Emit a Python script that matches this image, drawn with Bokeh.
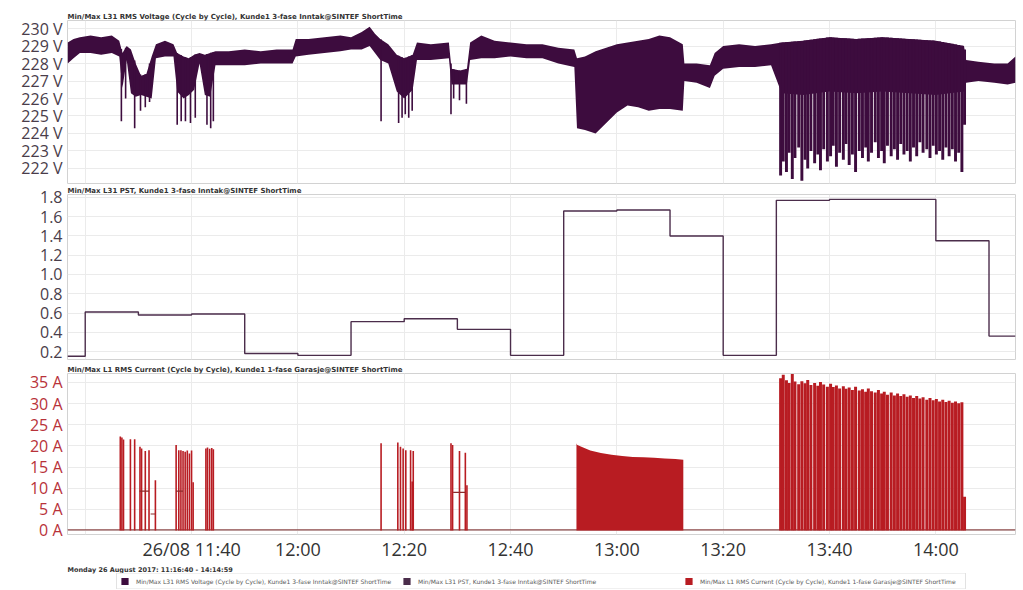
from bokeh.plotting import figure
from bokeh.layouts import column
from bokeh.models import FixedTicker, Legend, LegendItem, Range1d
from bokeh.embed import file_html
from bokeh.resources import INLINE
import numpy as np

# ---------------- data (time = minutes after 11:00 on 26/08/2017) ----------------
T_START = 16.667   # 11:16:40
T_END = 194.983    # 14:14:59

time_ticks = [20, 40, 60, 80, 100, 120, 140, 160, 180]
time_labels = ["", "26/08 11:40", "12:00", "12:20", "12:40", "13:00", "13:20", "13:40", "14:00"]

volt_ticks = [222, 223, 224, 225, 226, 227, 228, 229, 230]
volt_labels = ["222 V", "223 V", "224 V", "225 V", "226 V", "227 V", "228 V", "229 V", "230 V"]
pst_ticks = [0.2, 0.4, 0.6, 0.8, 1.0, 1.2, 1.4, 1.6, 1.8]
pst_labels = ["0.2", "0.4", "0.6", "0.8", "1.0", "1.2", "1.4", "1.6", "1.8"]
amp_ticks = [0, 5, 10, 15, 20, 25, 30, 35]
amp_labels = ["0 A", "5 A", "10 A", "15 A", "20 A", "25 A", "30 A", "35 A"]

# RMS voltage: min/max envelope of the steady band
volt_t = [16.7, 17.8, 19.0, 21.0, 23.0, 25.0, 26.4, 27.0, 27.8, 28.6,
          29.5, 30.5, 31.5, 32.5, 33.3, 35.0, 36.6, 37.3, 38.5, 39.5,
          40.5, 41.5, 42.5, 43.5, 44.5, 47.0, 50.0, 53.0, 56.0, 59.0,
          59.6, 62.0, 65.0, 68.0, 70.0, 72.0, 73.5, 74.5, 75.5, 77.0,
          78.6, 80.0, 81.6, 82.4, 85.0, 88.4, 88.9, 90.5, 91.8, 92.4,
          94.5, 97.0, 100.0, 103.0, 106.0, 109.0, 112.0, 112.5, 114.0, 116.0,
          118.0, 120.0, 122.0, 124.0, 126.0, 128.0, 130.0, 132.4, 132.7, 135.0,
          137.5, 138.4, 140.0, 143.0, 146.0, 149.0, 151.0, 155.0, 160.0, 165.0,
          170.0, 175.0, 180.0, 185.3, 185.7, 188.0, 191.0, 193.5, 194.98]
volt_hi = [229.2, 229.4, 229.5, 229.6, 229.5, 229.6, 229.3, 228.6, 229.0, 228.8,
           228.0, 227.3, 227.4, 228.4, 229.1, 229.3, 229.1, 228.6, 228.4, 228.3,
           228.5, 228.6, 228.5, 228.6, 228.7, 228.7, 228.8, 228.7, 228.8, 228.8,
           229.4, 229.4, 229.5, 229.6, 229.5, 229.8, 230.1, 229.7, 229.4, 229.1,
           228.5, 228.3, 228.5, 229.2, 229.1, 229.2, 227.7, 227.6, 227.7, 229.2,
           229.6, 229.3, 229.2, 229.1, 229.1, 228.9, 228.8, 228.3, 228.4, 228.7,
           228.9, 229.1, 229.2, 229.3, 229.4, 229.6, 229.5, 229.1, 228.0, 228.0,
           227.9, 228.6, 229.0, 229.1, 229.0, 229.1, 229.2, 229.3, 229.5, 229.4,
           229.5, 229.4, 229.3, 229.0, 228.2, 228.1, 228.0, 228.0, 228.4]
volt_lo = [228.0, 228.3, 228.6, 228.6, 228.5, 228.6, 228.4, 226.6, 228.2, 226.3,
           226.1, 226.2, 226.1, 226.0, 228.3, 228.4, 228.4, 226.4, 226.0, 226.2,
           226.5, 228.0, 226.2, 226.1, 227.9, 227.9, 227.9, 228.0, 228.0, 228.0,
           228.4, 228.5, 228.6, 228.7, 228.8, 228.8, 229.0, 228.6, 228.2, 228.0,
           226.4, 226.0, 226.5, 228.2, 228.2, 228.3, 226.8, 226.8, 226.8, 228.2,
           228.3, 228.3, 228.4, 228.3, 228.3, 228.0, 227.8, 224.3, 224.2, 224.0,
           224.6, 225.2, 225.6, 225.5, 225.3, 225.4, 225.4, 225.3, 227.0, 226.9,
           226.6, 227.3, 227.7, 227.8, 227.8, 227.9, 226.3, 226.2, 226.4, 226.3,
           226.4, 226.3, 226.2, 226.4, 226.9, 227.0, 226.9, 226.8, 226.9]

# voltage dips (deepest cycle) outside the dense bursts
dip_t = [26.8, 27.6, 29.3, 30.4, 31.3, 32.1, 37.3, 38.05, 38.85, 39.8, 40.7, 42.9,
         43.6, 44.1, 75.65, 78.95, 79.6, 80.2, 80.85, 81.5, 88.8, 89.3, 90.4, 91.7]
dip_v = [224.7, 226.0, 224.3, 225.3, 225.5, 225.8, 224.5, 224.7, 224.7, 224.6, 224.9, 224.5,
         224.3, 224.7, 224.7, 224.6, 224.9, 225.1, 224.9, 225.3, 225.1, 226.0, 225.9, 225.7]

# PST (10-minute steps)
pst_edges = [16.667, 20, 30, 40, 50, 60, 70, 80, 90, 100, 110, 120, 130, 140, 150, 160, 170, 180, 190]
pst_vals = [0.15, 0.61, 0.58, 0.59, 0.18, 0.16, 0.51, 0.54, 0.43, 0.16,
            1.66, 1.67, 1.40, 0.16, 1.77, 1.78, 1.78, 1.35, 0.36]

# RMS current: isolated spikes
spike_t = [26.6, 26.9, 27.2, 28.5, 29.3, 30.3, 30.6, 31.3, 32.0, 33.2, 37.1, 37.6, 38.0,
           38.4, 38.8, 39.2, 39.6, 40.0, 40.3, 42.7, 43.0, 43.4, 43.8, 44.1, 75.65, 78.8,
           79.3, 79.8, 80.3, 81.2, 81.5, 81.7, 88.8, 89.1, 90.4, 91.5, 91.8]
spike_a = [22.2, 22.0, 21.5, 21.6, 21.6, 19.8, 19.4, 18.8, 19.0, 11.9, 20.2, 19.0, 19.0,
           18.8, 18.6, 18.9, 18.2, 18.9, 11.4, 19.4, 19.6, 19.3, 19.5, 19.2, 20.6, 20.8,
           19.8, 19.4, 19.0, 19.0, 11.6, 18.8, 20.6, 20.2, 18.8, 18.4, 10.7]
# current plateaus drawn by the min/max trace
plat_t0 = [30.2, 32.3, 37.1, 89.2]
plat_t1 = [32.0, 33.2, 38.4, 91.5]
plat_a = [9.3, 3.9, 9.3, 9.0]
# idle current
idle_t = [T_START, T_END]
idle_a = [0.15, 0.15]
# continuous load block around 13:00
block_t = [112.4, 112.5, 113.0, 115.0, 117.0, 119.0, 121.0, 123.0, 125.0, 127.0, 129.0, 131.0, 132.5]
block_a = [20.6, 20.3, 20.0, 18.9, 18.3, 17.9, 17.6, 17.4, 17.3, 17.2, 17.0, 16.9, 16.7]

# switching bursts 13:30 - 14:05 (current peak and voltage minimum)
burst_t = [150.8, 151.3, 151.9, 152.4, 153.0, 153.5, 154.2, 154.8, 155.4, 155.9,
           156.5, 157.2, 157.8, 158.3, 158.9, 159.6, 160.2, 160.7, 161.3, 161.9,
           162.6, 163.1, 163.7, 164.3, 164.9, 165.6, 166.2, 166.8, 167.3, 167.9,
           168.6, 169.2, 169.8, 170.3, 170.9, 171.6, 172.2, 172.8, 173.4, 174.0,
           174.6, 175.2, 175.8, 176.4, 177.0, 177.6, 178.3, 178.9, 179.5, 180.1,
           180.7, 181.3, 181.9, 182.5, 183.1, 183.7, 184.3, 184.9, 185.4]
burst_a = [36.0, 36.8, 35.5, 34.9, 37.0, 35.2, 34.6, 35.3, 34.8, 35.6,
           34.4, 34.9, 34.2, 35.1, 34.5, 34.0, 34.7, 33.9, 34.3, 33.6,
           34.1, 33.5, 33.8, 33.2, 34.0, 33.1, 33.4, 32.8, 33.6, 32.9,
           32.6, 33.2, 32.4, 32.8, 32.1, 32.6, 31.9, 32.4, 31.8, 32.2,
           31.6, 31.9, 31.3, 31.8, 31.2, 31.5, 30.9, 31.3, 30.8, 31.1,
           30.5, 30.9, 30.4, 30.7, 30.2, 30.5, 30.1, 30.3, 8.0]
burst_v = [221.6, 222.4, 221.8, 222.9, 221.4, 222.6, 223.2, 221.3, 222.5, 222.0,
           223.0, 222.3, 222.8, 221.9, 223.1, 222.4, 222.7, 223.3, 222.1, 222.9,
           222.5, 223.4, 222.2, 222.8, 221.8, 223.0, 222.6, 223.2, 222.4, 222.9,
           223.5, 222.6, 223.0, 222.3, 223.3, 222.7, 223.1, 222.5, 223.4, 222.8,
           223.0, 222.4, 223.2, 222.7, 223.5, 222.9, 223.1, 222.6, 223.3, 222.8,
           223.0, 222.5, 223.2, 222.7, 223.1, 222.4, 222.9, 221.8, 224.5]

titles = ["Min/Max L31 RMS Voltage (Cycle by Cycle), Kunde1 3-fase Inntak@SINTEF ShortTime",
          "Min/Max L31 PST, Kunde1 3-fase Inntak@SINTEF ShortTime",
          "Min/Max L1 RMS Current (Cycle by Cycle), Kunde1 1-fase Garasje@SINTEF ShortTime"]
footer = "Monday 26 August 2017: 11:16:40 - 14:14:59"

# ---------------- styling ----------------
VOLT_C = "#3d0c3e"
PST_C = "#4b2d4b"
AMP_C = "#b81c22"
GRID_C = "#ebebeb"
FRAME_C = "#d2d2d2"
TICK_FONT = "Open Sans"
TITLE_FONT = "DejaVu Sans"
GREY_LBL = "#4a3d4a"
RED_LBL = "#b8323a"

x_range = Range1d(T_START, T_END)


def style_title(p, size="7px"):
    p.title.text_font = TITLE_FONT
    p.title.text_font_size = size
    p.title.text_font_style = "bold"
    p.title.text_color = "#333333"
    p.title.align = "left"
    p.title.standoff = 0
    p.title.offset = 0


def make_fig(y_lo, y_hi, frame_h, top_border, bottom_border, title, ticks, labels, lbl_color, show_x):
    p = figure(frame_width=948, frame_height=frame_h, x_range=x_range,
               y_range=Range1d(y_lo, y_hi), output_backend="svg", toolbar_location=None,
               min_border_left=67, min_border_right=8, min_border_top=top_border,
               min_border_bottom=bottom_border,
               x_axis_location="below" if show_x else None, title=title)
    style_title(p)
    p.outline_line_color = FRAME_C
    p.background_fill_color = "white"
    p.border_fill_color = "white"
    p.xgrid.ticker = FixedTicker(ticks=time_ticks)
    p.xgrid.grid_line_color = GRID_C
    p.ygrid.grid_line_color = GRID_C
    ax = p.yaxis[0]
    ax.ticker = FixedTicker(ticks=ticks)
    ax.major_label_overrides = dict(zip(ticks, labels))
    ax.major_label_text_font = TICK_FONT
    ax.major_label_text_font_size = "16px"
    ax.major_label_text_color = lbl_color
    ax.major_label_standoff = 5
    ax.major_tick_out = 0
    ax.major_tick_in = 0
    ax.minor_tick_out = 0
    ax.minor_tick_in = 0
    ax.axis_line_color = None
    ax.major_tick_line_color = None
    ax.minor_tick_line_color = None
    if show_x:
        xa = p.xaxis[0]
        xa.ticker = FixedTicker(ticks=time_ticks)
        xa.major_label_overrides = dict(zip(time_ticks, time_labels))
        xa.major_label_text_font = TICK_FONT
        xa.major_label_text_font_size = "18px"
        xa.major_label_text_color = "#333333"
        xa.major_label_standoff = 2
        xa.major_tick_out = 0
        xa.major_tick_in = 0
        xa.minor_tick_out = 0
        xa.minor_tick_in = 0
        xa.axis_line_color = None
        xa.major_tick_line_color = None
        xa.minor_tick_line_color = None
    return p


# ---- voltage ----
p1 = make_fig(221.14, 230.46, 163, 20, 1, titles[0], volt_ticks, volt_labels, GREY_LBL, False)
p1.varea(x=volt_t, y1=volt_lo, y2=volt_hi, fill_color=VOLT_C)
p1.segment(x0=dip_t, x1=dip_t, y0=np.interp(dip_t, volt_t, volt_hi).tolist(), y1=dip_v,
           line_color=VOLT_C, line_width=1.6)
p1.vbar(x=burst_t, width=0.55, bottom=burst_v, top=np.interp(burst_t, volt_t, volt_hi).tolist(),
        fill_color=VOLT_C, line_color=None)

# ---- PST ----
p2 = make_fig(0.117, 1.831, 165, 10, 4, titles[1], pst_ticks, pst_labels, GREY_LBL, False)
p2.step(x=pst_edges + [T_END], y=pst_vals + [pst_vals[-1]], mode="after",
        line_color=PST_C, line_width=1.4)

# ---- current ----
p3 = make_fig(-0.95, 37.12, 161, 10, 0, titles[2], amp_ticks, amp_labels, RED_LBL, True)
p3.line(x=idle_t, y=idle_a, line_color="#8c4a4a", line_width=1.2)
p3.varea(x=block_t, y1=[0] * len(block_t), y2=block_a, fill_color=AMP_C)
p3.segment(x0=spike_t, x1=spike_t, y0=[0] * len(spike_t), y1=spike_a, line_color=AMP_C, line_width=1.6)
p3.segment(x0=plat_t0, x1=plat_t1, y0=plat_a, y1=plat_a, line_color="#8c2a2a", line_width=1.2)
p3.vbar(x=burst_t, width=0.56, bottom=0, top=burst_a, fill_color=AMP_C, line_color=None)

# ---- footer + legend strip ----
p4 = figure(frame_width=948, frame_height=16, x_range=Range1d(0, 1), y_range=Range1d(0, 1),
            output_backend="svg", toolbar_location=None, min_border_left=67, min_border_right=8,
            min_border_top=0, min_border_bottom=0, x_axis_location=None, y_axis_location=None,
            title=footer)
style_title(p4, "6.5px")
p4.outline_line_color = None
p4.xgrid.visible = False
p4.ygrid.visible = False
p4.border_fill_color = "white"

leg_colors = [VOLT_C, PST_C, AMP_C]
nan = float("nan")
# legend proxies (not drawn: undefined coordinates, one row so the legend swatch has a colour)
leg_r = [p4.quad(left=[nan], right=[nan], bottom=[nan], top=[nan], fill_color=c, line_color=None)
         for c in leg_colors]
legend = Legend(items=[LegendItem(label=t, renderers=[r]) for t, r in zip(titles, leg_r)],
                orientation="horizontal", location="center",
                label_text_font=TITLE_FONT, label_text_font_size="6px", label_text_color="#5a5a5a",
                glyph_width=9, glyph_height=9, label_standoff=7, spacing=4, padding=3,
                label_width=262, margin=0, border_line_color="#c6c6c6", label_height=9)
p4.add_layout(legend, "center")

layout = column(p1, p2, p3, p4, spacing=0)
open("out.html", "w").write(file_html(layout, INLINE))
